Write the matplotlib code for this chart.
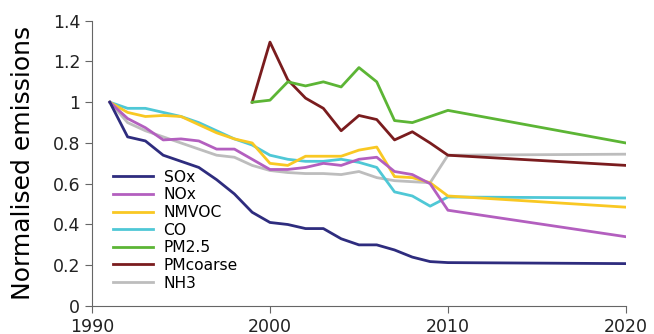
import numpy as np
import matplotlib
matplotlib.use("Agg")
import matplotlib.pyplot as plt

years = [1991, 1992, 1993, 1994, 1995, 1996, 1997, 1998, 1999, 2000,
         2001, 2002, 2003, 2004, 2005, 2006, 2007, 2008, 2009, 2010, 2020]
pm_years = [1999, 2000, 2001, 2002, 2003, 2004, 2005, 2006, 2007, 2008,
            2009, 2010, 2020]

sox = [1.0, 0.83, 0.81, 0.74, 0.71, 0.68, 0.62, 0.55, 0.46, 0.41,
       0.40, 0.38, 0.38, 0.33, 0.30, 0.30, 0.275, 0.24, 0.218, 0.213, 0.208]
nox = [1.0, 0.92, 0.875, 0.815, 0.82, 0.81, 0.77, 0.77, 0.72, 0.67,
       0.67, 0.68, 0.70, 0.69, 0.72, 0.73, 0.66, 0.645, 0.60, 0.47, 0.34]
nmvoc = [1.0, 0.95, 0.93, 0.935, 0.93, 0.89, 0.85, 0.82, 0.80, 0.70,
         0.69, 0.735, 0.735, 0.735, 0.765, 0.78, 0.635, 0.63, 0.605, 0.54, 0.485]
co = [1.0, 0.97, 0.97, 0.95, 0.93, 0.90, 0.86, 0.82, 0.79, 0.74,
      0.72, 0.71, 0.71, 0.72, 0.705, 0.68, 0.56, 0.54, 0.49, 0.535, 0.53]
nh3 = [1.0, 0.90, 0.86, 0.83, 0.80, 0.77, 0.74, 0.73, 0.69, 0.665,
       0.655, 0.65, 0.65, 0.645, 0.66, 0.63, 0.615, 0.61, 0.605, 0.74, 0.745]
pm25 = [1.0, 1.01, 1.10, 1.08, 1.10, 1.075, 1.17, 1.10, 0.91, 0.90,
        0.93, 0.96, 0.80]
pmcoarse = [1.0, 1.295, 1.11, 1.02, 0.97, 0.86, 0.935, 0.915, 0.815, 0.855,
            0.80, 0.74, 0.69]

series = [
    ("SOx", years, sox, "#2e2c7e"),
    ("NOx", years, nox, "#b35fbf"),
    ("NMVOC", years, nmvoc, "#f9c823"),
    ("CO", years, co, "#4fc8d6"),
    ("PM2.5", pm_years, pm25, "#5cb535"),
    ("PMcoarse", pm_years, pmcoarse, "#7a1c1e"),
    ("NH3", years, nh3, "#bdbdbd"),
]

fig = plt.figure(figsize=(6.54, 3.34), dpi=100)
ax = fig.add_axes([0.1407, 0.0838, 0.8163, 0.8542])

# draw in reverse so SOx ends up on top
for name, x, y, c in reversed(series):
    ax.plot(x, y, color=c, lw=2.0, label=name, solid_joinstyle="round")

handles, labels = ax.get_legend_handles_labels()
ax.legend(handles[::-1], labels[::-1], loc="lower left",
          bbox_to_anchor=(0.019, 0.016), frameon=False, fontsize=11.2,
          handlelength=2.6, labelspacing=0.17, handletextpad=0.65,
          borderaxespad=0.3)

ax.set_xlim(1990, 2020)
ax.set_ylim(0, 1.4)
ax.set_xticks([1990, 2000, 2010, 2020])
ax.set_yticks([0, 0.2, 0.4, 0.6, 0.8, 1.0, 1.2, 1.4])
ax.set_yticklabels(["0", "0.2", "0.4", "0.6", "0.8", "1", "1.2", "1.4"])
ax.set_ylabel("Normalised emissions", fontsize=18, labelpad=13)

for side in ("top", "right"):
    ax.spines[side].set_visible(False)
for side in ("left", "bottom"):
    ax.spines[side].set_color("#666666")
    ax.spines[side].set_linewidth(0.8)
ax.tick_params(colors="#666666", labelcolor="#222222", labelsize=12.5,
               length=5, width=0.8, direction="out")

fig.savefig("out.png", dpi=100)
